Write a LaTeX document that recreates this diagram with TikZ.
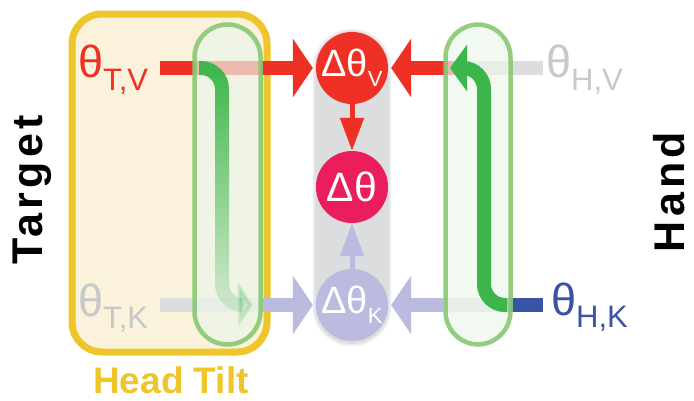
\documentclass[tikz,border=0pt]{standalone}
\usepackage{fontspec}
\setmainfont{Liberation Sans}
\usetikzlibrary{arrows.meta,positioning,fadings}

\definecolor{errred}{RGB}{238,49,36}
\definecolor{summag}{RGB}{233,30,91}
\definecolor{lavend}{RGB}{186,187,222}
\definecolor{bargray}{RGB}{220,221,223}
\definecolor{txtgray}{RGB}{199,200,202}
\definecolor{handblue}{RGB}{58,84,165}
\definecolor{tiltgreen}{RGB}{60,182,74}
\definecolor{capgreen}{RGB}{136,200,114}
\definecolor{capfill}{RGB}{236,246,234}
\definecolor{tiltyellow}{RGB}{238,197,43}
\definecolor{tiltfill}{RGB}{250,242,218}

\tikzfading[name=fadedown, top color=transparent!0, bottom color=transparent!85]

\newcommand{\lowtext}[3]{\raisebox{-#1pt}{\fontsize{#2}{#2}\selectfont #3}}

\tikzset{
  bar/.style={line width=14pt},
  bighead/.style={-{Triangle[width=58pt,length=20pt]}},
  smallhead/.style={line width=5pt,-{Triangle[width=23pt,length=33pt]}},
  capsule/.style={draw=capgreen, draw opacity=0.9, line width=4.5pt, fill=capfill, fill opacity=0.7, rounded corners=33pt},
  tiltbox/.style={draw=tiltyellow, line width=7pt, fill=tiltfill, rounded corners=30pt},
  column/.style={fill=bargray, draw=bargray!60, line width=2pt, rounded corners=38pt},
  dot/.style={circle, minimum size=72pt, inner sep=0pt, text=white},
  lab/.style={inner sep=0pt, anchor=base west, font=\fontsize{45}{45}\selectfont},
  side/.style={rotate=90, font=\fontsize{43}{43}\selectfont\bfseries\addfontfeatures{LetterSpace=10}},
  greenline/.style={tiltgreen, line width=14pt, rounded corners=21pt}
}

\begin{document}
\begin{tikzpicture}[x=1pt,y=-1pt]
\useasboundingbox (0,0) rectangle (694,400);

% head tilt box
\draw[tiltbox] (72,14) rectangle (267,352);
\node[font=\fontsize{37}{37}\selectfont\bfseries, text=tiltyellow] (tilt) at (171,380) {Head Tilt};

% side labels
\node[side] (target) at (32,190) {Target};
\node[side] (hand) at (669,192) {Hand};

% middle column with the three errors
\draw[column] (314,30) rectangle (390,345);
\node[dot, fill=errred, font=\fontsize{38}{38}\selectfont] (dV) at (352,68) {Δθ\lowtext{10}{22}{V}};
\node[dot, fill=summag, font=\fontsize{41}{41}\selectfont] (d) at (352,187) {Δθ};
\node[dot, fill=lavend, font=\fontsize{38}{38}\selectfont] (dK) at (352,305) {Δθ\lowtext{10}{22}{K}};
\draw[smallhead, errred] (dV) -- (d);
\draw[smallhead, lavend] (dK) -- (d);

% input labels
\node[lab, text=errred] (tv) at (78,77) {θ\lowtext{13}{31}{T,V}};
\node[lab, text=txtgray] (tk) at (78,316) {θ\lowtext{12}{31}{T,K}};
\node[lab, text=txtgray] (hv) at (546,77) {θ\lowtext{13}{31}{H,V}};
\node[lab, text=handblue] (hk) at (551,315) {θ\lowtext{12}{31}{H,K}};

% bar end points
\coordinate (tvs) at (160,68);
\coordinate (tks) at (160,305);
\coordinate (tkm) at (263,305);
\coordinate (hvs) at (543,68);
\coordinate (hvm) at (462,68);
\coordinate (hks) at (543,305);
\coordinate (hkm) at (507,305);
\coordinate (hkl) at (443,305);

% target side bars
\draw[bar, bargray] (tks) -- (tkm);
\draw[bar, lavend, bighead, shorten >=3pt] (tkm) -- (dK.west);
\draw[bar, errred, bighead, shorten >=3pt] (tvs) -- (dV.west);

% hand side bars
\draw[bar, bargray] (hvs) -- (hvm);
\draw[bar, errred, bighead, shorten >=3pt] (hvm) -- (dV.east);
\draw[bar, handblue] (hks) -- (hkm);
\draw[bar, bargray] (hkm) -- (hkl);
\draw[bar, lavend, bighead, shorten >=3pt] (hkl) -- (dK.east);

% green capsules
\draw[capsule] (194.5,24.5) rectangle (260.5,344.5);
\draw[capsule] (445.5,24.5) rectangle (510.5,344.5);

% hand tilt arrow, K to V
\draw[greenline, -{Triangle[width=46pt,length=17pt]}] (hkm) -- (484,305) -- (484,68) -- (450,68);

% head tilt arrow, V to K (fading)
\draw[greenline, path fading=fadedown, -{Triangle[width=44pt,length=15pt]}] (199,68) -- (222,68) -- (222,305) -- (253,305);
\end{tikzpicture}
\end{document}
